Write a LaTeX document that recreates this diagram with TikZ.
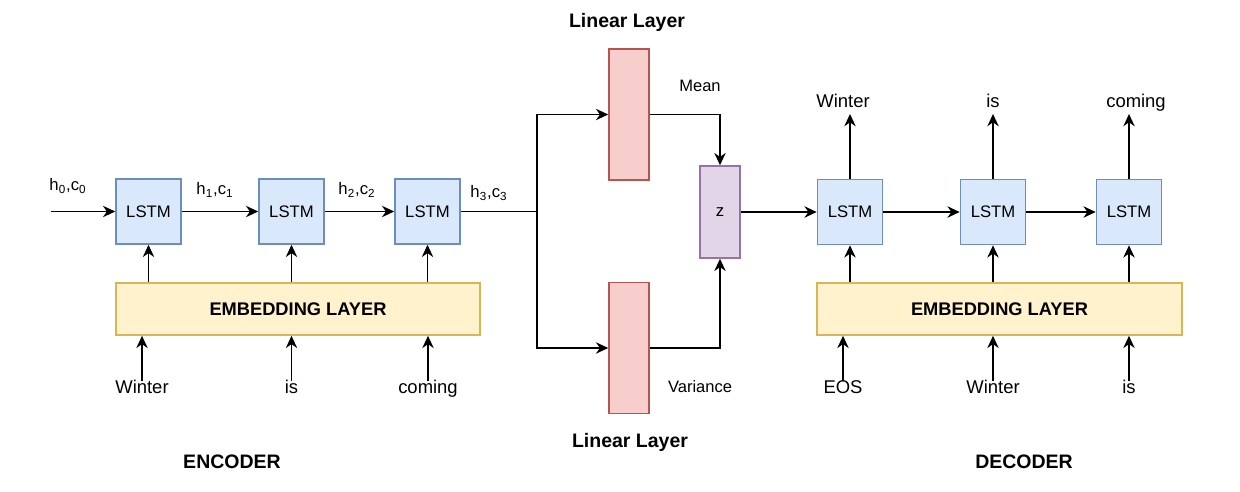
\documentclass[tikz,border=0pt]{standalone}
\usepackage{fontspec}
\setmainfont{Liberation Sans}
\usetikzlibrary{arrows.meta}

\definecolor{lstmfill}{HTML}{DAE8FC}
\definecolor{lstmdraw}{HTML}{6C8EBF}
\definecolor{embfill}{HTML}{FFF2CC}
\definecolor{embdraw}{HTML}{D6B656}
\definecolor{linfill}{HTML}{F8CECC}
\definecolor{lindraw}{HTML}{B85450}
\definecolor{zfill}{HTML}{E1D5E7}
\definecolor{zdraw}{HTML}{9673A6}

\tikzstyle{lstm}=[rectangle,draw=lstmdraw,fill=lstmfill,line width=0.9pt,minimum width=1.3cm,minimum height=1.3cm,font=\fontsize{9.5}{11}\selectfont]
\tikzstyle{emb}=[rectangle,draw=embdraw,fill=embfill,line width=0.9pt,minimum height=1.04cm,font=\fontsize{10.4}{12}\selectfont\bfseries]
\tikzstyle{lin}=[rectangle,draw=lindraw,fill=linfill,line width=0.9pt,minimum width=0.8cm,minimum height=2.62cm]
\tikzstyle{zbox}=[rectangle,draw=zdraw,fill=zfill,line width=0.9pt,minimum width=0.8cm,minimum height=1.84cm,font=\fontsize{9.5}{11}\selectfont]
\tikzstyle{word}=[inner sep=1pt,text height=0.75em,text depth=0.22em,font=\fontsize{10.5}{12}\selectfont]
\tikzstyle{state}=[inner sep=1pt,font=\fontsize{9.5}{11}\selectfont]
\tikzstyle{title}=[inner sep=1pt,font=\fontsize{11.1}{13}\selectfont\bfseries]
\tikzstyle{small}=[inner sep=1pt,font=\fontsize{9.4}{11}\selectfont]

\begin{document}
\begin{tikzpicture}[x=0.02cm,y=-0.02cm,line width=0.8pt,>={Stealth[length=7pt,width=6.5pt]}]
\useasboundingbox[fill=white] (0,0) rectangle (1240,491);

\node[lstm] (e1) at (148.5,211.5) {LSTM};
\node[lstm] (e2) at (291.5,211.5) {LSTM};
\node[lstm] (e3) at (427.5,211.5) {LSTM};
\node[emb,minimum width=7.28cm] (eemb) at (298,309) {EMBEDDING LAYER};
\node[word] (ew1) at (142,388.5) {Winter};
\node[word] (ew2) at (291.5,388.5) {is};
\node[word] (ew3) at (428,388.5) {coming};
\node[title] (enc) at (232,462) {ENCODER};
\coordinate (hin) at (51,211.5);
\node[state] (h0) at (68,186) {h\textsubscript{0},c\textsubscript{0}};
\node[state] (h1) at (215,190) {h\textsubscript{1},c\textsubscript{1}};
\node[state] (h2) at (357,190) {h\textsubscript{2},c\textsubscript{2}};
\node[state] (h3) at (489,193) {h\textsubscript{3},c\textsubscript{3}};
\draw[->] (hin) -- (e1);
\draw[->] (e1) -- (e2);
\draw[->] (e2) -- (e3);
\draw[->] (eemb.north -| e1) -- (e1.south);
\draw[->] (eemb.north -| e2) -- (e2.south);
\draw[->] (eemb.north -| e3) -- (e3.south);
\draw[->] ([yshift=-2pt] ew1.north) -- (ew1.north |- eemb.south);
\draw[->] ([yshift=-2pt] ew2.north) -- (ew2.north |- eemb.south);
\draw[->] ([yshift=-2pt] ew3.north) -- (ew3.north |- eemb.south);

\node[lin] (mu) at (629,114.5) {};
\node[lin] (var) at (629,348) {};
\node[title] at (627,22) {Linear Layer};
\node[title] at (630,442) {Linear Layer};
\node[small] at (700,86) {Mean};
\node[small] at (700,387) {Variance};
\node[zbox] (z) at (720,212) {z};
\coordinate (br) at (537,211.5);
\draw (e3) -- (br);
\draw[->] (br) |- (mu.west);
\draw[->] (br) |- (var.west);
\draw[->] (mu.east) -| (z.north);
\draw[->] (var.east) -| (z.south);

\node[lstm] (d1) at (850,212) {LSTM};
\node[lstm] (d2) at (993,212) {LSTM};
\node[lstm] (d3) at (1129,212) {LSTM};
\node[emb,minimum width=7.3cm] (demb) at (999.5,309) {EMBEDDING LAYER};
\node[word] (dw1) at (843,388.5) {EOS};
\node[word] (dw2) at (993,388.5) {Winter};
\node[word] (dw3) at (1129,388.5) {is};
\node[word] (o1) at (843,103) {Winter};
\node[word] (o2) at (993,103) {is};
\node[word] (o3) at (1136,103) {coming};
\node[title] (dec) at (1024,462) {DECODER};
\draw[->] (z) -- (d1);
\draw[->] (d1) -- (d2);
\draw[->] (d2) -- (d3);
\draw[->] (demb.north -| d1) -- (d1.south);
\draw[->] (demb.north -| d2) -- (d2.south);
\draw[->] (demb.north -| d3) -- (d3.south);
\draw[->] ([yshift=-2pt] dw1.north) -- (dw1.north |- demb.south);
\draw[->] ([yshift=-2pt] dw2.north) -- (dw2.north |- demb.south);
\draw[->] ([yshift=-2pt] dw3.north) -- (dw3.north |- demb.south);
\draw[->] (d1.north) -- (d1.north |- o1.south);
\draw[->] (d2.north) -- (d2.north |- o2.south);
\draw[->] (d3.north) -- (d3.north |- o3.south);
\end{tikzpicture}
\end{document}
